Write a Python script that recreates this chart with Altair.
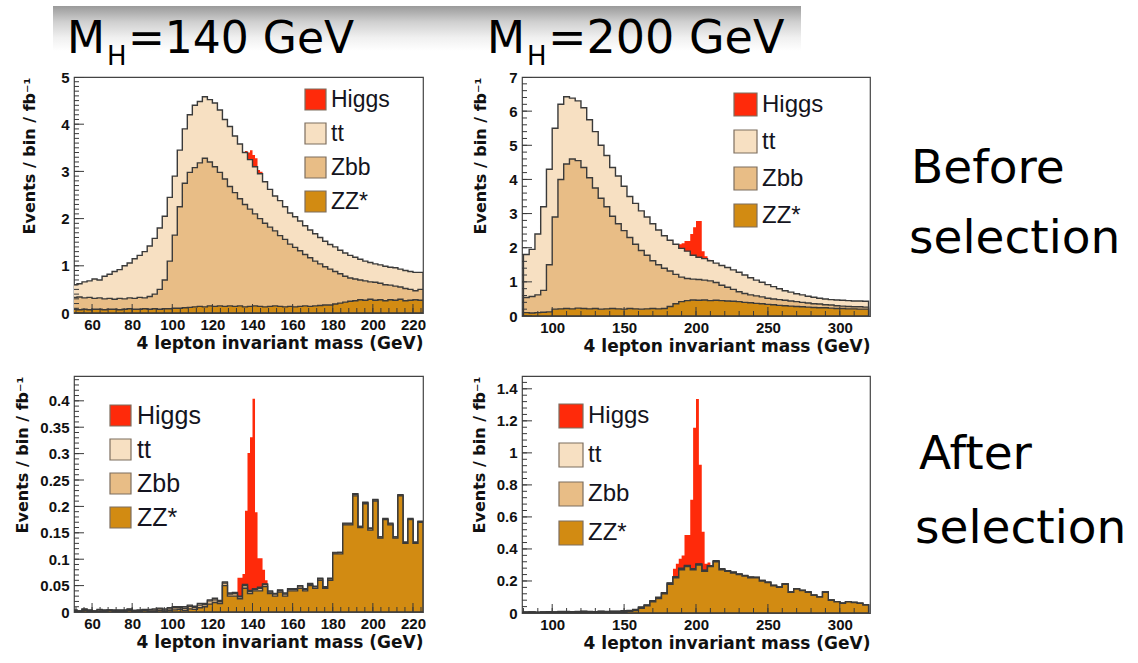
import altair as alt
import pandas as pd

# ------------------------------------------------------------------ data
COMPONENTS = ["Higgs", "tt", "Zbb", "ZZ*"]
COLORS = ["#ff2a0a", "#f7e0c2", "#e8bd86", "#d28b12"]
X_TITLE = "4 lepton invariant mass (GeV)"
Y_TITLE = "Events / bin / fb⁻¹"
HEADER_MAIN = "M"
HEADER_SUB = "H"
HEADERS = ["=140 GeV", "=200 GeV"]
ROW_LABELS = [["Before", "selection"], ["After", "selection"]]

# Panel A : M_H = 140 GeV, before selection (2.5 GeV bins starting at 50 GeV)
a_lo, a_bw = 50.0, 2.5
a_zz = [0.08, 0.07, 0.08, 0.07, 0.08, 0.08, 0.07, 0.08, 0.08, 0.07,
        0.08, 0.09, 0.08, 0.08, 0.09, 0.08, 0.09, 0.08, 0.09, 0.09,
        0.10, 0.10, 0.11, 0.12, 0.13, 0.14, 0.13, 0.15, 0.14, 0.15,
        0.14, 0.15, 0.14, 0.15, 0.13, 0.14, 0.15, 0.14, 0.13, 0.14,
        0.15, 0.14, 0.13, 0.14, 0.13, 0.14, 0.15, 0.14, 0.15, 0.16,
        0.17, 0.17, 0.19, 0.21, 0.23, 0.25, 0.26, 0.28, 0.27, 0.29,
        0.27, 0.28, 0.26, 0.28, 0.27, 0.29, 0.26, 0.27, 0.28, 0.27]
a_zbb = [0.25, 0.27, 0.24, 0.26, 0.23, 0.24, 0.23, 0.23, 0.21, 0.24,
         0.22, 0.23, 0.23, 0.25, 0.23, 0.27, 0.31, 0.42, 0.61, 1.01,
         1.55, 2.15, 2.64, 2.86, 2.95, 3.04, 3.15, 3.05, 2.96, 2.83,
         2.70, 2.53, 2.41, 2.27, 2.17, 2.06, 1.95, 1.86, 1.77, 1.68,
         1.59, 1.50, 1.43, 1.32, 1.26, 1.18, 1.09, 1.03, 0.95, 0.88,
         0.81, 0.76, 0.69, 0.62, 0.55, 0.49, 0.46, 0.42, 0.41, 0.37,
         0.38, 0.35, 0.34, 0.31, 0.30, 0.26, 0.26, 0.23, 0.19, 0.23]
a_tt = [0.27, 0.28, 0.34, 0.35, 0.41, 0.38, 0.48, 0.51, 0.59, 0.61,
        0.70, 0.74, 0.84, 0.89, 0.98, 1.07, 1.18, 1.30, 1.35, 1.35,
        1.25, 1.20, 1.15, 1.22, 1.32, 1.30, 1.30, 1.32, 1.35, 1.32,
        1.26, 1.27, 1.20, 1.16, 1.10, 1.05, 1.00, 0.95, 0.88, 0.80,
        0.74, 0.74, 0.69, 0.66, 0.65, 0.63, 0.61, 0.59, 0.58, 0.56,
        0.54, 0.52, 0.52, 0.50, 0.49, 0.48, 0.46, 0.44, 0.42, 0.41,
        0.39, 0.39, 0.39, 0.38, 0.39, 0.38, 0.38, 0.38, 0.39, 0.36]
a_h_lo, a_h_bw = 136.25, 1.25
a_higgs = [0.03, 0.15, 0.20, 0.25, 0.18, 0.08, 0.04]

# Panel B : M_H = 200 GeV, before selection (4 GeV bins starting at 80 GeV)
b_lo, b_bw = 80.0, 4.0
b_zz = [0.10, 0.09, 0.10, 0.11, 0.12, 0.20, 0.21, 0.22, 0.21, 0.23,
        0.22, 0.21, 0.22, 0.20, 0.21, 0.22, 0.21, 0.20, 0.22, 0.21,
        0.20, 0.21, 0.22, 0.21, 0.22, 0.28, 0.36, 0.42, 0.45, 0.47,
        0.46, 0.47, 0.45, 0.46, 0.45, 0.44, 0.43, 0.42, 0.40, 0.39,
        0.37, 0.36, 0.34, 0.33, 0.31, 0.30, 0.29, 0.28, 0.27, 0.26,
        0.25, 0.24, 0.24, 0.23, 0.22, 0.22, 0.21, 0.21, 0.20, 0.20]
b_zbb = [0.44, 0.48, 0.52, 0.64, 1.38, 2.70, 3.79, 4.23, 4.39, 4.32,
         4.13, 3.84, 3.53, 3.25, 2.99, 2.70, 2.49, 2.30, 2.08, 1.89,
         1.72, 1.57, 1.40, 1.29, 1.18, 1.04, 0.86, 0.72, 0.65, 0.61,
         0.61, 0.58, 0.58, 0.52, 0.45, 0.40, 0.35, 0.29, 0.26, 0.23,
         0.22, 0.20, 0.18, 0.17, 0.17, 0.16, 0.15, 0.14, 0.13, 0.12,
         0.11, 0.11, 0.09, 0.09, 0.08, 0.07, 0.07, 0.06, 0.07, 0.06]
b_tt = [1.26, 1.38, 1.78, 2.45, 2.80, 2.60, 2.20, 1.97, 1.78, 1.75,
        1.75, 1.70, 1.65, 1.55, 1.50, 1.43, 1.40, 1.30, 1.20, 1.20,
        1.16, 1.12, 1.08, 1.02, 0.95, 0.90, 0.88, 0.84, 0.80, 0.70,
        0.65, 0.63, 0.59, 0.57, 0.58, 0.58, 0.57, 0.57, 0.54, 0.50,
        0.46, 0.43, 0.40, 0.36, 0.32, 0.28, 0.26, 0.23, 0.22, 0.20,
        0.19, 0.17, 0.17, 0.16, 0.17, 0.17, 0.17, 0.17, 0.17, 0.17]
b_h_lo, b_h_bw = 188.0, 2.0
b_higgs = [0.12, 0.15, 0.30, 0.30, 0.62, 0.82, 1.06, 1.06, 0.22, 0.07, 0.03, 0.01]

# Panel C : M_H = 140 GeV, after selection (2.5 GeV bins starting at 50 GeV)
c_lo, c_bw = 50.0, 2.5
c_zz = [0.002, 0.001, 0.003, 0.002, 0.001, 0.002, 0.002, 0.003, 0.001, 0.002,
        0.002, 0.003, 0.002, 0.001, 0.003, 0.002, 0.002, 0.003, 0.002, 0.003,
        0.004, 0.005, 0.003, 0.006, 0.005, 0.008, 0.010, 0.015, 0.018, 0.016,
        0.050, 0.030, 0.030, 0.025, 0.045, 0.035, 0.040, 0.040, 0.048, 0.035,
        0.030, 0.038, 0.030, 0.040, 0.040, 0.045, 0.040, 0.050, 0.045, 0.060,
        0.045, 0.060, 0.110, 0.110, 0.165, 0.165, 0.220, 0.160, 0.205, 0.155,
        0.210, 0.140, 0.175, 0.165, 0.140, 0.220, 0.130, 0.175, 0.130, 0.170]
c_zbb = [0.001, 0.001, 0.002, 0.001, 0.001, 0.002, 0.001, 0.001, 0.002, 0.001,
         0.001, 0.002, 0.001, 0.002, 0.001, 0.002, 0.002, 0.003, 0.002, 0.003,
         0.004, 0.003, 0.004, 0.005, 0.004, 0.005, 0.004, 0.006, 0.005, 0.004,
         0.005, 0.004, 0.005, 0.004, 0.005, 0.004, 0.003, 0.005, 0.004, 0.003,
         0.004, 0.003, 0.004, 0.003, 0.003, 0.004, 0.003, 0.002, 0.003, 0.003,
         0.002, 0.003, 0.002, 0.003, 0.002, 0.002, 0.003, 0.002, 0.002, 0.003,
         0.002, 0.002, 0.001, 0.002, 0.002, 0.001, 0.002, 0.001, 0.002, 0.001]
c_tt = [0.001, 0.000, 0.001, 0.001, 0.000, 0.001, 0.001, 0.000, 0.001, 0.001,
        0.001, 0.001, 0.000, 0.001, 0.001, 0.001, 0.002, 0.001, 0.002, 0.002,
        0.002, 0.002, 0.003, 0.002, 0.002, 0.003, 0.002, 0.002, 0.003, 0.002,
        0.002, 0.002, 0.002, 0.001, 0.002, 0.002, 0.001, 0.002, 0.001, 0.002,
        0.001, 0.001, 0.002, 0.001, 0.001, 0.001, 0.001, 0.002, 0.001, 0.001,
        0.001, 0.001, 0.001, 0.000, 0.001, 0.001, 0.001, 0.000, 0.001, 0.001,
        0.001, 0.000, 0.001, 0.001, 0.000, 0.001, 0.000, 0.001, 0.000, 0.001]
c_h_lo, c_h_bw = 132.5, 1.25
c_higgs = [0.035, 0.035, 0.020, 0.140, 0.260, 0.290, 0.360, 0.145, 0.055, 0.055, 0.027, 0.007]

# Panel D : M_H = 200 GeV, after selection (4 GeV bins starting at 80 GeV)
d_lo, d_bw = 80.0, 4.0
d_zz = [0.004, 0.005, 0.003, 0.004, 0.005, 0.004, 0.006, 0.005, 0.004, 0.005,
        0.006, 0.005, 0.004, 0.006, 0.005, 0.006, 0.007, 0.008, 0.010, 0.015,
        0.030, 0.045, 0.070, 0.090, 0.120, 0.180, 0.220, 0.270, 0.290, 0.270,
        0.300, 0.260, 0.290, 0.320, 0.270, 0.260, 0.250, 0.240, 0.230, 0.220,
        0.220, 0.200, 0.190, 0.170, 0.160, 0.180, 0.130, 0.150, 0.140, 0.130,
        0.110, 0.100, 0.130, 0.080, 0.070, 0.060, 0.070, 0.065, 0.060, 0.050]
d_zbb = [0.001, 0.001, 0.001, 0.002, 0.001, 0.002, 0.002, 0.002, 0.003, 0.002,
         0.003, 0.003, 0.002, 0.003, 0.003, 0.004, 0.003, 0.004, 0.004, 0.005,
         0.005, 0.004, 0.005, 0.006, 0.005, 0.006, 0.005, 0.006, 0.005, 0.005,
         0.004, 0.005, 0.004, 0.004, 0.004, 0.003, 0.004, 0.003, 0.003, 0.003,
         0.002, 0.003, 0.002, 0.002, 0.002, 0.002, 0.001, 0.002, 0.001, 0.001,
         0.001, 0.001, 0.001, 0.001, 0.001, 0.001, 0.000, 0.001, 0.001, 0.000]
d_tt = [0.001, 0.001, 0.001, 0.001, 0.002, 0.001, 0.001, 0.002, 0.001, 0.002,
        0.002, 0.001, 0.002, 0.002, 0.002, 0.002, 0.002, 0.003, 0.002, 0.002,
        0.003, 0.002, 0.002, 0.003, 0.002, 0.002, 0.002, 0.003, 0.002, 0.002,
        0.002, 0.002, 0.001, 0.002, 0.002, 0.001, 0.002, 0.001, 0.001, 0.002,
        0.001, 0.001, 0.001, 0.001, 0.001, 0.001, 0.001, 0.000, 0.001, 0.001,
        0.001, 0.000, 0.001, 0.001, 0.000, 0.001, 0.000, 0.001, 0.000, 0.001]
d_h_lo, d_h_bw = 184.0, 2.0
d_higgs = [0.05, 0.08, 0.06, 0.08, 0.19, 0.19, 0.43, 0.88, 1.03, 0.62, 0.24, 0.04, 0.02]

# axis tick labels
X_LABELS_140 = [60, 80, 100, 120, 140, 160, 180, 200, 220]
X_LABELS_200 = [100, 150, 200, 250, 300]
Y_LABELS_A = [0, 1, 2, 3, 4, 5]
Y_LABELS_B = [0, 1, 2, 3, 4, 5, 6, 7]
Y_LABELS_C = [0, 0.05, 0.1, 0.15, 0.2, 0.25, 0.3, 0.35, 0.4]
Y_LABELS_D = [0, 0.2, 0.4, 0.6, 0.8, 1.0, 1.2, 1.4]

# ------------------------------------------------------------------ styling
OUTLINE = "#3a3a3a"
LABEL_FONT = "Liberation Sans"
TITLE_FONT = "DejaVu Sans"
HAND_FONT = "DejaVu Sans"


def step_df(lo, bw, vals, comp):
    n = len(vals)
    xs = [lo + bw * i for i in range(n + 1)]
    ys = list(vals) + [vals[-1]]
    return pd.DataFrame({"m": xs, "y": ys, "comp": [comp] * (n + 1)})


def tick_positions(lo, hi, step):
    out, k = [], 0
    while True:
        v = round(lo + k * step, 6)
        if v > hi + 1e-9:
            break
        out.append(v)
        k += 1
    return out


def text_layer(s, x, y, size, font=HAND_FONT, weight="normal"):
    return alt.Chart(pd.DataFrame({"t": [s]})).mark_text(
        font=font, fontSize=size, fontWeight=weight, align="left",
        baseline="alphabetic", color="#000000"
    ).encode(text="t:N", x=alt.value(x), y=alt.value(y))


def panel(p):
    W, H = p["w"], p["h"]
    xs = alt.Scale(domain=p["xdom"], nice=False, zero=False)
    ys = alt.Scale(domain=p["ydom"], nice=False, zero=False)
    xaxis = alt.Axis(values=p["xlabels"], title=X_TITLE, titleAnchor="end",
                     titleFont=TITLE_FONT, titleFontSize=17, titleFontWeight="bold",
                     titleColor="#111111", titlePadding=3,
                     labelFont=LABEL_FONT, labelFontSize=15, labelFontWeight="bold",
                     labelColor="#111111", labelPadding=4, labelFlush=False,
                     labelOverlap=False, ticks=False, domain=False, grid=False,
                     format="d")
    yaxis = alt.Axis(values=p["ylabels"], title=Y_TITLE, titleX=p["title_x"], titleY=0,
                     titleAngle=270, titleAlign="right", titleBaseline="top",
                     titleFont=TITLE_FONT, titleFontSize=16, titleFontWeight="bold",
                     titleColor="#111111",
                     labelFont=LABEL_FONT, labelFontSize=15, labelFontWeight="bold",
                     labelColor="#111111", labelPadding=5, labelFlush=False,
                     labelOverlap=False, ticks=False, domain=False, grid=False,
                     format="~r")
    cscale = alt.Scale(domain=COMPONENTS, range=COLORS)
    side = p["sym"]
    legend = alt.Legend(title=None, orient="none", legendX=p["leg_x"], legendY=p["leg_y"],
                        direction="vertical", symbolType="square", symbolSize=side * side,
                        symbolStrokeColor="#7d6e5f", symbolStrokeWidth=1.2, symbolOpacity=1,
                        labelFont=LABEL_FONT, labelFontSize=p["leg_fs"], labelColor="#141420",
                        labelOffset=4, rowPadding=p["leg_rp"], padding=0, labelLimit=0)

    zz, zbb, tt = p["zz"], p["zbb"], p["tt"]
    c1 = list(zz)
    c2 = [a + b for a, b in zip(zz, zbb)]
    c3 = [a + b for a, b in zip(c2, tt)]
    hv = []
    for j, v in enumerate(p["higgs"]):
        mid = p["h_lo"] + p["h_bw"] * (j + 0.5)
        k = int((mid - p["lo"]) // p["bw"])
        hv.append(c3[k] + v)

    def area(df, stroke):
        kw = dict(interpolate="step-after", clip=True, opacity=1)
        if stroke:
            kw.update(stroke=OUTLINE, strokeWidth=1.4)
        else:
            kw.update(strokeWidth=0)
        return alt.Chart(df).mark_area(**kw).encode(
            x=alt.X("m:Q", scale=xs, axis=xaxis),
            y=alt.Y("y:Q", scale=ys, axis=yaxis, stack=None),
            color=alt.Color("comp:N", scale=cscale, legend=legend),
        )

    layers = [
        area(step_df(p["h_lo"], p["h_bw"], hv, "Higgs"), False),
        area(step_df(p["lo"], p["bw"], c3, "tt"), True),
        area(step_df(p["lo"], p["bw"], c2, "Zbb"), True),
        area(step_df(p["lo"], p["bw"], c1, "ZZ*"), True),
    ]

    # inward-pointing ROOT style ticks
    def ytick(vals, length):
        return alt.Chart(pd.DataFrame({"v": vals})).mark_rule(
            color=OUTLINE, strokeWidth=1, clip=True
        ).encode(y=alt.Y("v:Q", scale=ys, axis=yaxis),
                 x=alt.value(0), x2=alt.value(length))

    def xtick(vals, length):
        return alt.Chart(pd.DataFrame({"v": vals})).mark_rule(
            color=OUTLINE, strokeWidth=1, clip=True
        ).encode(x=alt.X("v:Q", scale=xs, axis=xaxis),
                 y=alt.value(H), y2=alt.value(H - length))

    layers += [
        ytick(p["ylabels"], 10),
        ytick(tick_positions(p["ydom"][0], p["ydom"][1], p["yminor"]), 5),
        xtick(p["xlabels"], 9),
        xtick(tick_positions(p["xminor_lo"], p["xdom"][1], p["xminor"]), 5),
    ]
    layers += p.get("extra", [])
    return alt.layer(*layers).properties(width=W, height=H)


# header bar + M_H labels (drawn in panel A / B coordinates)
grad = alt.LinearGradient(
    gradient="linear",
    stops=[alt.GradientStop(color="#9a9a9a", offset=0),
           alt.GradientStop(color="#cfcfcf", offset=0.35),
           alt.GradientStop(color="#f0f0f0", offset=0.7),
           alt.GradientStop(color="#ffffff", offset=1)],
    x1=0, x2=0, y1=0, y2=1)
header_bar = alt.Chart(pd.DataFrame({"k": [0]})).mark_rect(fill=grad, strokeWidth=0).encode(
    x=alt.value(-21), x2=alt.value(727), y=alt.value(-71), y2=alt.value(-26))

extra_a = [header_bar,
           text_layer(HEADER_MAIN, -7, -24, 44),
           text_layer(HEADER_SUB, 33, -12, 26),
           text_layer(HEADERS[0], 54, -24, 44)]
extra_b = [text_layer(HEADER_MAIN, -35, -24, 44),
           text_layer(HEADER_SUB, 5, -12, 26),
           text_layer(HEADERS[1], 26, -24, 46),
           text_layer(ROW_LABELS[0][0], 389, 106, 47),
           text_layer(ROW_LABELS[0][1], 387, 176, 47)]
extra_d = [text_layer(ROW_LABELS[1][0], 397, 93, 47),
           text_layer(ROW_LABELS[1][1], 393, 167, 47)]

pA = panel(dict(w=349, h=236, lo=a_lo, bw=a_bw, zz=a_zz, zbb=a_zbb, tt=a_tt,
                h_lo=a_h_lo, h_bw=a_h_bw, higgs=a_higgs, xdom=[51, 225], ydom=[0, 5],
                xlabels=X_LABELS_140, ylabels=Y_LABELS_A, yminor=0.1, xminor=4, xminor_lo=52,
                title_x=-53, leg_x=230, leg_y=11, leg_fs=23, leg_rp=7, sym=21, extra=extra_a))
pB = panel(dict(w=348, h=239, lo=b_lo, bw=b_bw, zz=b_zz, zbb=b_zbb, tt=b_tt,
                h_lo=b_h_lo, h_bw=b_h_bw, higgs=b_higgs, xdom=[79, 321], ydom=[0, 7],
                xlabels=X_LABELS_200, ylabels=Y_LABELS_B, yminor=0.2, xminor=10, xminor_lo=80,
                title_x=-50, leg_x=211, leg_y=15, leg_fs=24, leg_rp=8, sym=23, extra=extra_b))
pC = panel(dict(w=349, h=236, lo=c_lo, bw=c_bw, zz=c_zz, zbb=c_zbb, tt=c_tt,
                h_lo=c_h_lo, h_bw=c_h_bw, higgs=c_higgs, xdom=[51, 225], ydom=[0, 0.447],
                xlabels=X_LABELS_140, ylabels=Y_LABELS_C, yminor=0.01, xminor=4, xminor_lo=52,
                title_x=-60, leg_x=34, leg_y=27, leg_fs=25, leg_rp=7, sym=21, extra=[]))
pD = panel(dict(w=348, h=237, lo=d_lo, bw=d_bw, zz=d_zz, zbb=d_zbb, tt=d_tt,
                h_lo=d_h_lo, h_bw=d_h_bw, higgs=d_higgs, xdom=[79, 321], ydom=[0, 1.48],
                xlabels=X_LABELS_200, ylabels=Y_LABELS_D, yminor=0.04, xminor=10, xminor_lo=80,
                title_x=-51, leg_x=36, leg_y=27, leg_fs=24, leg_rp=9, sym=24, extra=extra_d))

chart = alt.concat(
    pA, pB, pC, pD, columns=2, spacing={"row": 60, "column": 99}, bounds="flush"
).resolve_scale(color="independent").properties(
    padding={"left": 13, "top": 5, "right": 0, "bottom": 0}, background="white"
).configure_view(stroke="#444444", strokeWidth=1.2)

chart.save("out.html", embed_options={"renderer": "svg", "actions": False})
